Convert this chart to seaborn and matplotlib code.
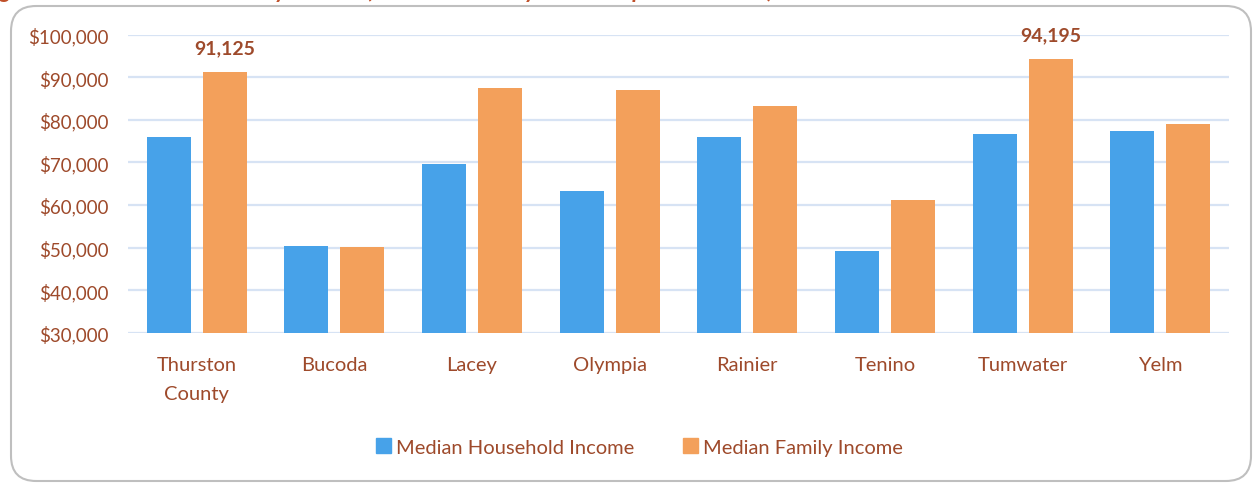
import pandas as pd
import matplotlib.pyplot as plt
import seaborn as sns
from matplotlib.patches import FancyBboxPatch, Patch
from matplotlib.ticker import FuncFormatter

# datos
ciudades = ["Thurston\nCounty", "Bucoda", "Lacey", "Olympia", "Rainier", "Tenino", "Tumwater", "Yelm"]
ingreso_hogar = [75870, 50400, 69600, 63200, 75930, 49160, 76630, 77270]
ingreso_familia = [91125, 50160, 87500, 87000, 83200, 61170, 94195, 78990]
etiquetas_familia = {0: "91,125", 6: "94,195"}
series = ["Median Household Income", "Median Family Income"]

titulo = "Figure 3: Household and Family Income (Thurston County and Incorporated Cities)"

azul = "#47A2E9"
naranja = "#F3A05B"
cafe = "#9E4A2B"
grilla = "#D7E3F4"

df = pd.DataFrame({
    "ciudad": ciudades * 2,
    "serie": [series[0]] * len(ciudades) + [series[1]] * len(ciudades),
    "valor": ingreso_hogar + ingreso_familia,
})

sns.set_style("white")
plt.rcParams["font.family"] = ["Lato", "DejaVu Sans"]

fig = plt.figure(figsize=(12.56, 4.85), dpi=100)
ax = fig.add_axes([128 / 1256, 1 - 333.7 / 485, (1229 - 128) / 1256, (333.7 - 35.7) / 485])

sns.barplot(data=df, x="ciudad", y="valor", hue="serie", order=ciudades,
            palette=[azul, naranja], width=0.814, gap=0.214, ax=ax,
            legend=False, edgecolor="none", saturation=1)

ax.set_ylim(30000, 100000)
ax.set_xlim(-0.5, len(ciudades) - 0.5)
ax.set_yticks(range(30000, 100001, 10000))
ax.yaxis.set_major_formatter(FuncFormatter(lambda v, p: f"${v:,.0f}"))
ax.grid(axis="y", color=grilla, linewidth=1.6)
ax.set_axisbelow(True)
for s in ax.spines.values():
    s.set_visible(False)
ax.set_xlabel("")
ax.set_ylabel("")
ax.tick_params(axis="y", length=0, pad=14, labelsize=13.5, labelcolor=cafe)
ax.tick_params(axis="x", length=0, pad=17, labelsize=14.5, labelcolor=cafe)
for t in ax.get_xticklabels():
    t.set_linespacing(1.8)

# etiquetas de valor sobre las barras de familia
for i, barra in enumerate(ax.containers[1]):
    if i in etiquetas_familia:
        ax.annotate(etiquetas_familia[i],
                    (barra.get_x() + barra.get_width() / 2, barra.get_height()),
                    xytext=(0, 18), textcoords="offset points",
                    ha="center", va="center", fontsize=14, fontweight="bold",
                    color=cafe, annotation_clip=False)

manijas = [Patch(color=azul), Patch(color=naranja)]
fig.legend(manijas, series, loc="center", bbox_to_anchor=(0.509, 1 - 448 / 485),
           ncol=2, frameon=False, fontsize=14.5, labelcolor=cafe,
           handlelength=0.75, handleheight=0.75, handletextpad=0.25,
           columnspacing=2.4)

# marco redondeado
marco = FancyBboxPatch((11 / 1256, 3 / 485), 1240 / 1256, 475 / 485,
                       boxstyle="round,pad=0,rounding_size=0.02",
                       transform=fig.transFigure, facecolor="none",
                       edgecolor="#BFBFBF", linewidth=1.5, mutation_aspect=2.6)
fig.patches.append(marco)

# titulo cortado en la parte superior (asi aparece en el original)
fig.text(-18 / 1256, 1 + 2 / 485, titulo, ha="left", va="baseline", fontsize=16.5,
         fontweight="bold", fontstyle="italic", color="#C0502A")

fig.savefig("out.png", dpi=100)
